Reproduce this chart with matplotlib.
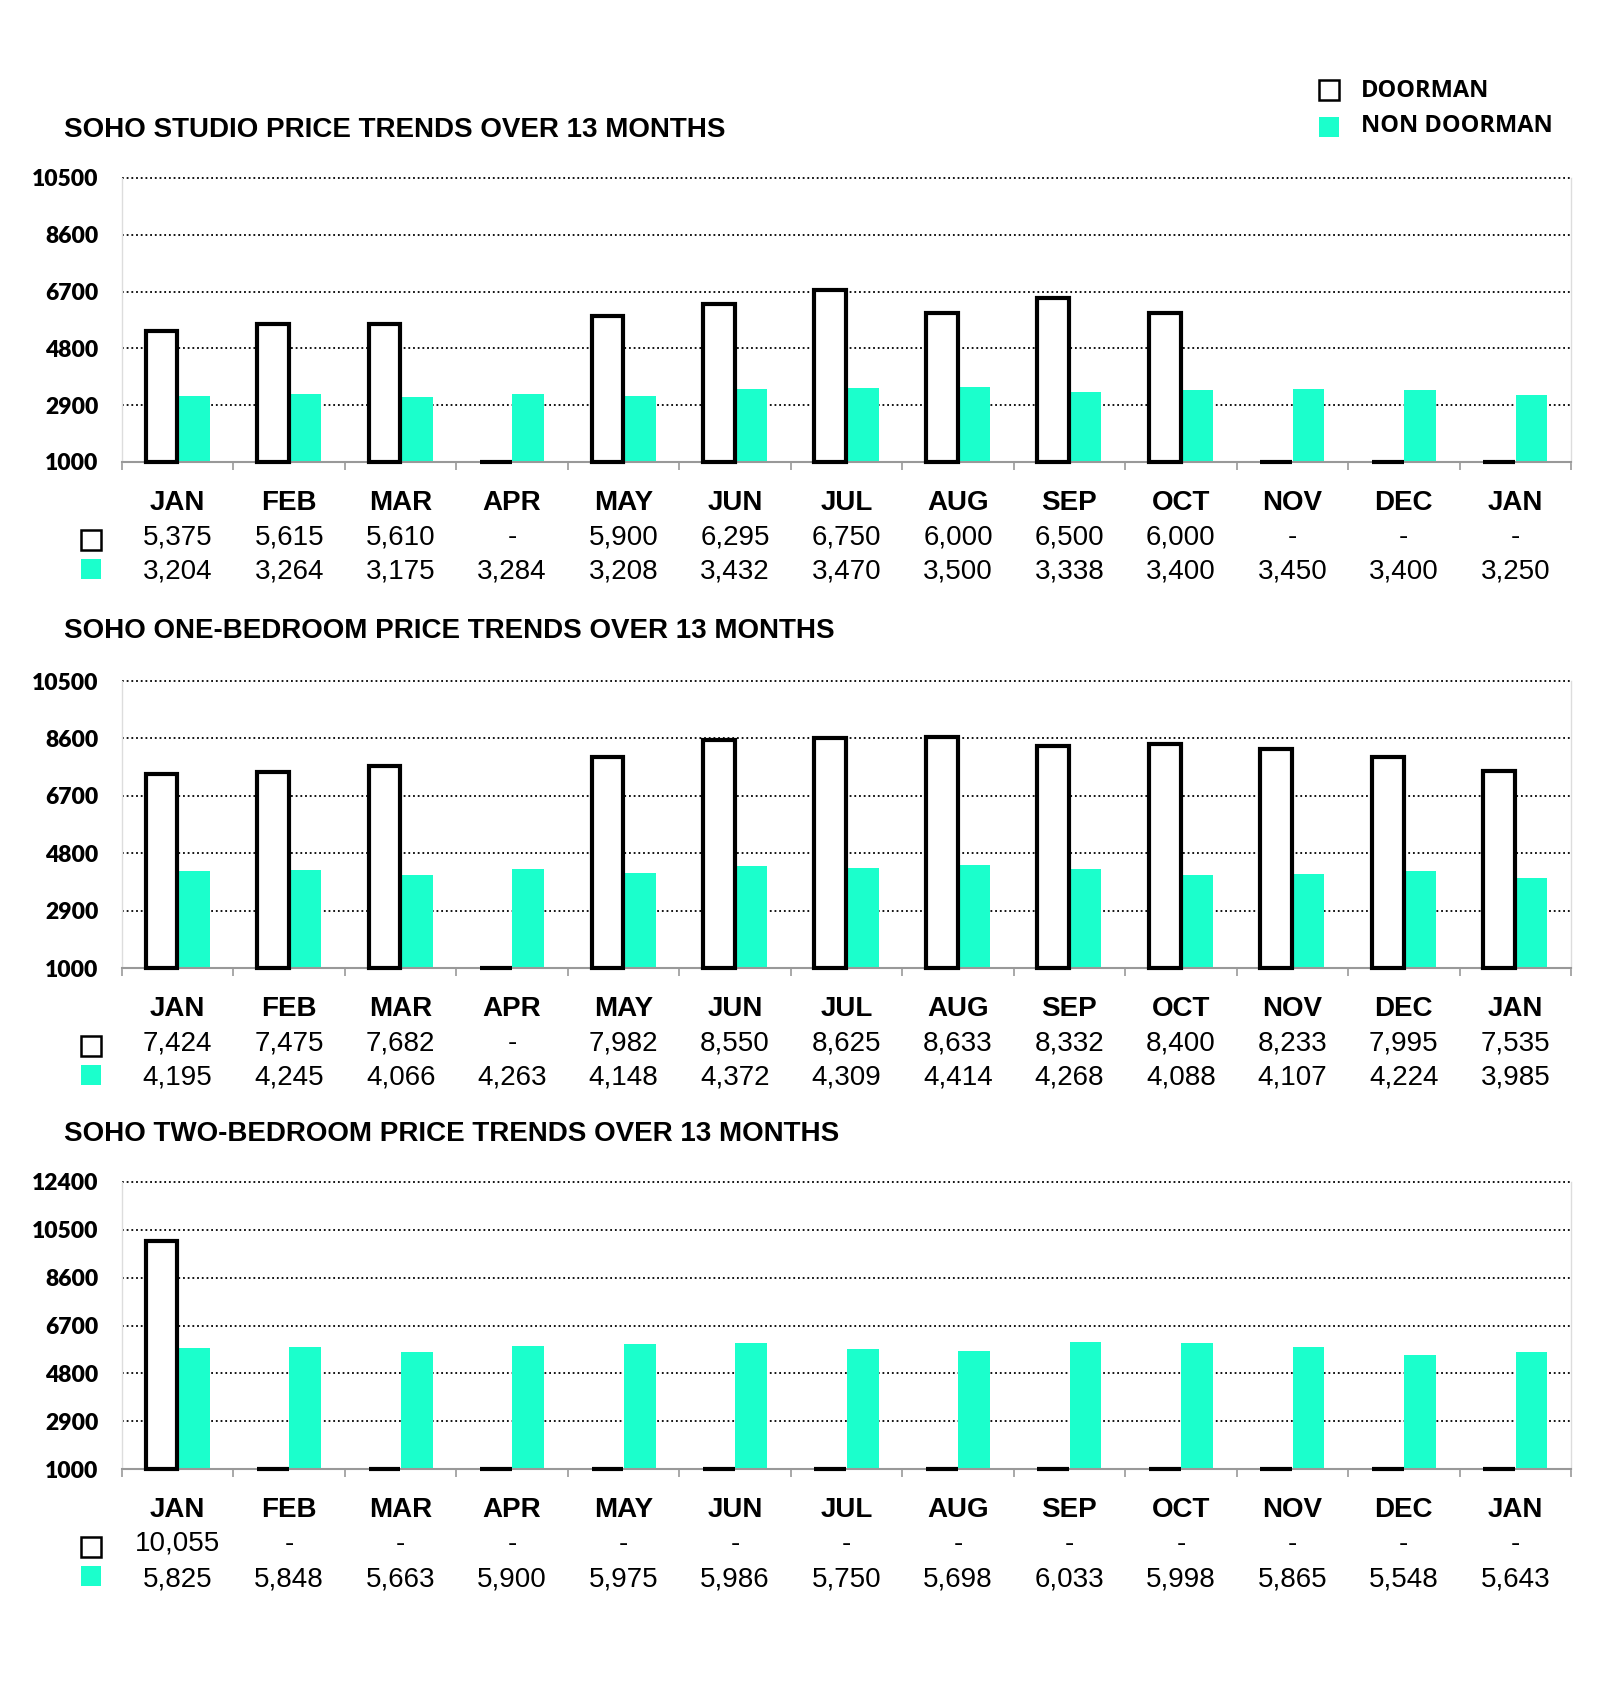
import numpy as np
import matplotlib
matplotlib.use('Agg')
import matplotlib.pyplot as plt
from matplotlib.lines import Line2D
from matplotlib.transforms import ScaledTranslation

months = ['JAN', 'FEB', 'MAR', 'APR', 'MAY', 'JUN', 'JUL', 'AUG', 'SEP', 'OCT', 'NOV', 'DEC', 'JAN']

# None = no listing that month ("-")
studio_doorman = [5375, 5615, 5610, None, 5900, 6295, 6750, 6000, 6500, 6000, None, None, None]
studio_non_doorman = [3204, 3264, 3175, 3284, 3208, 3432, 3470, 3500, 3338, 3400, 3450, 3400, 3250]

one_bed_doorman = [7424, 7475, 7682, None, 7982, 8550, 8625, 8633, 8332, 8400, 8233, 7995, 7535]
one_bed_non_doorman = [4195, 4245, 4066, 4263, 4148, 4372, 4309, 4414, 4268, 4088, 4107, 4224, 3985]

two_bed_doorman = [10055, None, None, None, None, None, None, None, None, None, None, None, None]
two_bed_non_doorman = [5825, 5848, 5663, 5900, 5975, 5986, 5750, 5698, 6033, 5998, 5865, 5548, 5643]

titles = ['SOHO STUDIO PRICE TRENDS OVER 13 MONTHS',
          'SOHO ONE-BEDROOM PRICE TRENDS OVER 13 MONTHS',
          'SOHO TWO-BEDROOM PRICE TRENDS OVER 13 MONTHS']
yticks_small = [1000, 2900, 4800, 6700, 8600, 10500]
yticks_large = [1000, 2900, 4800, 6700, 8600, 10500, 12400]

CYAN = '#1BFFCC'
DPI = 100
W, H = 1600, 1700
fig = plt.figure(figsize=(W / DPI, H / DPI), dpi=DPI)

TXT = 'Liberation Sans'
TICK_FONT = 'Lato'
FS = 20


def shift(base, dx, dy):
    # offset a transform by pixels
    return base + ScaledTranslation(dx / DPI, dy / DPI, fig.dpi_scale_trans)


def draw_panel(top_px, bottom_px, title_px, title, doorman, non_doorman, yticks):
    left_px, right_px = 122, 1571
    ax = fig.add_axes([left_px / W, 1 - bottom_px / H,
                       (right_px - left_px) / W, (bottom_px - top_px) / H])
    x = np.arange(len(months))
    base = yticks[0]
    d_h = [(v - base) if v is not None else 0 for v in doorman]
    n_h = [v - base for v in non_doorman]

    ax.bar(x + 0.145, n_h, width=0.285, bottom=base, color=CYAN, zorder=2)
    ax.bar(x - 0.145, d_h, width=0.285, bottom=base, facecolor='white',
           edgecolor='black', linewidth=3, joinstyle='miter', zorder=3, clip_on=False)

    ax.set_xlim(-0.5, len(months) - 0.5)
    ax.set_ylim(base, yticks[-1])
    ax.set_yticks(yticks)
    ax.set_yticklabels([str(t) for t in yticks], fontfamily=TICK_FONT,
                       fontweight='heavy', fontsize=16.5)
    ax.tick_params(axis='y', length=0, pad=17)
    ax.set_xticks(np.arange(-0.5, len(months), 1))
    ax.set_xticklabels([])
    ax.tick_params(axis='x', length=6, width=1.2, color='#999999', direction='out')

    ax.set_axisbelow(True)
    ax.yaxis.grid(True, color='black', linestyle=(0, (1, 1.6)), linewidth=1.3)
    for gl in ax.get_ygridlines():
        gl.set_clip_on(False)
    ax.spines['top'].set_visible(False)
    for s in ('left', 'right'):
        ax.spines[s].set_color('#dddddd')
        ax.spines[s].set_linewidth(1)
    ax.spines['bottom'].set_color('#999999')
    ax.spines['bottom'].set_linewidth(1.5)

    fig.text(64 / W, 1 - title_px / H, title, fontfamily=TXT, fontweight='bold',
             fontsize=FS, ha='left', va='center')

    # data table under the bars
    xt = ax.get_xaxis_transform()
    for i, m in enumerate(months):
        ax.text(i, 0, m, transform=shift(xt, 0, -41), ha='center', va='center',
                fontfamily=TXT, fontweight='bold', fontsize=FS)
        dv = doorman[i]
        ax.text(i, 0, f'{dv:,}' if dv is not None else '-', transform=shift(xt, 0, -75),
                ha='center', va='center', fontfamily=TXT, fontsize=FS)
        ax.text(i, 0, f'{non_doorman[i]:,}', transform=shift(xt, 0, -110),
                ha='center', va='center', fontfamily=TXT, fontsize=FS)

    ax.plot([0], [0], marker='s', ms=14, mfc='white', mec='black', mew=1.8,
            transform=shift(ax.transAxes, -31, -78), clip_on=False)
    ax.plot([0], [0], marker='s', ms=15, mfc=CYAN, mec=CYAN, mew=0,
            transform=shift(ax.transAxes, -31, -107), clip_on=False)
    return ax


draw_panel(178, 462, 130, titles[0], studio_doorman, studio_non_doorman, yticks_small)
draw_panel(681, 968, 631, titles[1], one_bed_doorman, one_bed_non_doorman, yticks_small)
draw_panel(1182, 1469, 1134, titles[2], two_bed_doorman, two_bed_non_doorman, yticks_large)

# legend
fig.add_artist(Line2D([1329 / W], [1 - 90 / H], marker='s', ms=14, mfc='white',
                      mec='black', mew=1.8, transform=fig.transFigure))
fig.add_artist(Line2D([1329 / W], [1 - 127 / H], marker='s', ms=15, mfc=CYAN,
                      mec=CYAN, mew=0, transform=fig.transFigure))
fig.text(1361 / W, 1 - 91 / H, 'DOORMAN', fontfamily='Open Sans', fontweight='bold',
         fontsize=17, ha='left', va='center')
fig.text(1361 / W, 1 - 126 / H, 'NON DOORMAN', fontfamily='Open Sans', fontweight='bold',
         fontsize=17, ha='left', va='center')

fig.savefig('out.png', dpi=DPI, facecolor='white')
